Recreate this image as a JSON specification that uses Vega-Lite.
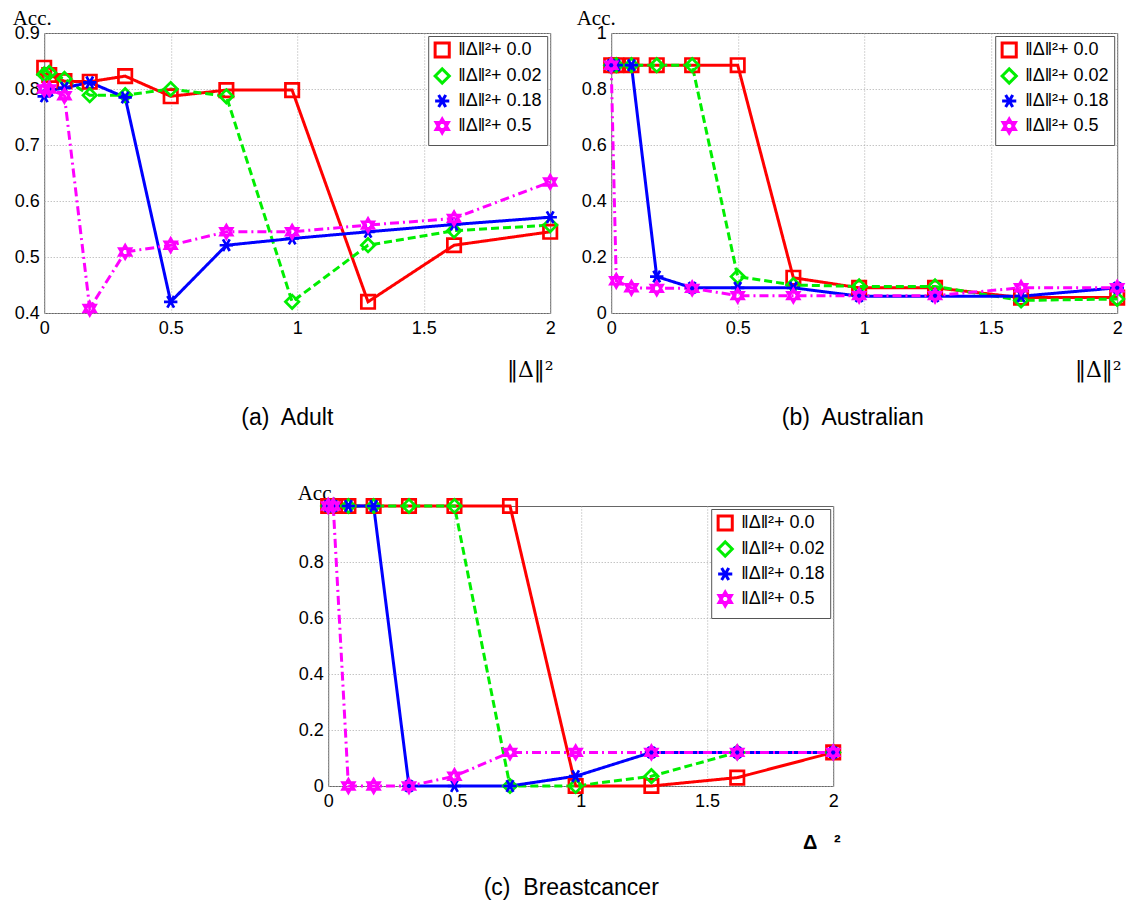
{
  "$schema": "https://vega.github.io/schema/vega-lite/v6.json",
  "padding": {"left": 11, "top": 6, "right": 5, "bottom": 5},
  "background": "white",
  "center": true,
  "spacing": 50,
  "datasets": {
    "adult": [
      {"s": "0.0", "x": 0, "y": 0.838}, {"s": "0.0", "x": 0.02, "y": 0.825}, {"s": "0.0", "x": 0.08, "y": 0.814}, {"s": "0.0", "x": 0.18, "y": 0.813}, {"s": "0.0", "x": 0.32, "y": 0.823}, {"s": "0.0", "x": 0.5, "y": 0.787}, {"s": "0.0", "x": 0.72, "y": 0.798}, {"s": "0.0", "x": 0.98, "y": 0.798}, {"s": "0.0", "x": 1.28, "y": 0.42}, {"s": "0.0", "x": 1.62, "y": 0.521}, {"s": "0.0", "x": 2, "y": 0.545},
      {"s": "0.02", "x": 0, "y": 0.826}, {"s": "0.02", "x": 0.02, "y": 0.829}, {"s": "0.02", "x": 0.08, "y": 0.818}, {"s": "0.02", "x": 0.18, "y": 0.789}, {"s": "0.02", "x": 0.32, "y": 0.789}, {"s": "0.02", "x": 0.5, "y": 0.8}, {"s": "0.02", "x": 0.72, "y": 0.787}, {"s": "0.02", "x": 0.98, "y": 0.42}, {"s": "0.02", "x": 1.28, "y": 0.521}, {"s": "0.02", "x": 1.62, "y": 0.547}, {"s": "0.02", "x": 2, "y": 0.557},
      {"s": "0.18", "x": 0, "y": 0.787}, {"s": "0.18", "x": 0.02, "y": 0.797}, {"s": "0.18", "x": 0.08, "y": 0.802}, {"s": "0.18", "x": 0.18, "y": 0.812}, {"s": "0.18", "x": 0.32, "y": 0.785}, {"s": "0.18", "x": 0.5, "y": 0.42}, {"s": "0.18", "x": 0.72, "y": 0.521}, {"s": "0.18", "x": 0.98, "y": 0.533}, {"s": "0.18", "x": 1.28, "y": 0.545}, {"s": "0.18", "x": 1.62, "y": 0.558}, {"s": "0.18", "x": 2, "y": 0.571},
      {"s": "0.5", "x": 0, "y": 0.8}, {"s": "0.5", "x": 0.02, "y": 0.8}, {"s": "0.5", "x": 0.08, "y": 0.788}, {"s": "0.5", "x": 0.18, "y": 0.408}, {"s": "0.5", "x": 0.32, "y": 0.509}, {"s": "0.5", "x": 0.5, "y": 0.521}, {"s": "0.5", "x": 0.72, "y": 0.545}, {"s": "0.5", "x": 0.98, "y": 0.545}, {"s": "0.5", "x": 1.28, "y": 0.557}, {"s": "0.5", "x": 1.62, "y": 0.569}, {"s": "0.5", "x": 2, "y": 0.634}
    ],
    "australian": [
      {"s": "0.0", "x": 0, "y": 0.885}, {"s": "0.0", "x": 0.02, "y": 0.885}, {"s": "0.0", "x": 0.08, "y": 0.885}, {"s": "0.0", "x": 0.18, "y": 0.885}, {"s": "0.0", "x": 0.32, "y": 0.885}, {"s": "0.0", "x": 0.5, "y": 0.885}, {"s": "0.0", "x": 0.72, "y": 0.126}, {"s": "0.0", "x": 0.98, "y": 0.09}, {"s": "0.0", "x": 1.28, "y": 0.09}, {"s": "0.0", "x": 1.62, "y": 0.055}, {"s": "0.0", "x": 2, "y": 0.055},
      {"s": "0.02", "x": 0, "y": 0.885}, {"s": "0.02", "x": 0.02, "y": 0.885}, {"s": "0.02", "x": 0.08, "y": 0.885}, {"s": "0.02", "x": 0.18, "y": 0.885}, {"s": "0.02", "x": 0.32, "y": 0.885}, {"s": "0.02", "x": 0.5, "y": 0.13}, {"s": "0.02", "x": 0.72, "y": 0.1}, {"s": "0.02", "x": 0.98, "y": 0.095}, {"s": "0.02", "x": 1.28, "y": 0.095}, {"s": "0.02", "x": 1.62, "y": 0.045}, {"s": "0.02", "x": 2, "y": 0.05},
      {"s": "0.18", "x": 0, "y": 0.885}, {"s": "0.18", "x": 0.02, "y": 0.885}, {"s": "0.18", "x": 0.08, "y": 0.885}, {"s": "0.18", "x": 0.18, "y": 0.13}, {"s": "0.18", "x": 0.32, "y": 0.09}, {"s": "0.18", "x": 0.5, "y": 0.09}, {"s": "0.18", "x": 0.72, "y": 0.09}, {"s": "0.18", "x": 0.98, "y": 0.06}, {"s": "0.18", "x": 1.28, "y": 0.06}, {"s": "0.18", "x": 1.62, "y": 0.06}, {"s": "0.18", "x": 2, "y": 0.09},
      {"s": "0.5", "x": 0, "y": 0.885}, {"s": "0.5", "x": 0.02, "y": 0.115}, {"s": "0.5", "x": 0.08, "y": 0.09}, {"s": "0.5", "x": 0.18, "y": 0.088}, {"s": "0.5", "x": 0.32, "y": 0.088}, {"s": "0.5", "x": 0.5, "y": 0.062}, {"s": "0.5", "x": 0.72, "y": 0.062}, {"s": "0.5", "x": 0.98, "y": 0.062}, {"s": "0.5", "x": 1.28, "y": 0.062}, {"s": "0.5", "x": 1.62, "y": 0.09}, {"s": "0.5", "x": 2, "y": 0.09}
    ],
    "breast": [
      {"s": "0.0", "x": 0, "y": 1}, {"s": "0.0", "x": 0.02, "y": 1}, {"s": "0.0", "x": 0.08, "y": 1}, {"s": "0.0", "x": 0.18, "y": 1}, {"s": "0.0", "x": 0.32, "y": 1}, {"s": "0.0", "x": 0.5, "y": 1}, {"s": "0.0", "x": 0.72, "y": 1}, {"s": "0.0", "x": 0.98, "y": 0}, {"s": "0.0", "x": 1.28, "y": 0}, {"s": "0.0", "x": 1.62, "y": 0.03}, {"s": "0.0", "x": 2, "y": 0.12},
      {"s": "0.02", "x": 0, "y": 1}, {"s": "0.02", "x": 0.02, "y": 1}, {"s": "0.02", "x": 0.08, "y": 1}, {"s": "0.02", "x": 0.18, "y": 1}, {"s": "0.02", "x": 0.32, "y": 1}, {"s": "0.02", "x": 0.5, "y": 1}, {"s": "0.02", "x": 0.72, "y": 0}, {"s": "0.02", "x": 0.98, "y": 0}, {"s": "0.02", "x": 1.28, "y": 0.035}, {"s": "0.02", "x": 1.62, "y": 0.12}, {"s": "0.02", "x": 2, "y": 0.12},
      {"s": "0.18", "x": 0, "y": 1}, {"s": "0.18", "x": 0.02, "y": 1}, {"s": "0.18", "x": 0.08, "y": 1}, {"s": "0.18", "x": 0.18, "y": 1}, {"s": "0.18", "x": 0.32, "y": 0}, {"s": "0.18", "x": 0.5, "y": 0}, {"s": "0.18", "x": 0.72, "y": 0}, {"s": "0.18", "x": 0.98, "y": 0.035}, {"s": "0.18", "x": 1.28, "y": 0.12}, {"s": "0.18", "x": 1.62, "y": 0.12}, {"s": "0.18", "x": 2, "y": 0.12},
      {"s": "0.5", "x": 0, "y": 1}, {"s": "0.5", "x": 0.02, "y": 1}, {"s": "0.5", "x": 0.08, "y": 0}, {"s": "0.5", "x": 0.18, "y": 0}, {"s": "0.5", "x": 0.32, "y": 0}, {"s": "0.5", "x": 0.5, "y": 0.035}, {"s": "0.5", "x": 0.72, "y": 0.12}, {"s": "0.5", "x": 0.98, "y": 0.12}, {"s": "0.5", "x": 1.28, "y": 0.12}, {"s": "0.5", "x": 1.62, "y": 0.12}, {"s": "0.5", "x": 2, "y": 0.12}
    ]
  },
  "vconcat": [
    {
      "bounds": "flush",
      "spacing": 61,
      "hconcat": [
        {
          "width": 506, "height": 280,
          "data": {"name": "adult"},
          "title": {"text": "(a)\u00a0 Adult"},
          "resolve": {"legend": {"color": "independent", "shape": "independent", "strokeDash": "independent"}},
          "encoding": {
            "x": {"field": "x", "type": "quantitative", "scale": {"domain": [0, 2], "nice": false, "zero": false},
                  "axis": {"values": [0, 0.5, 1, 1.5, 2], "format": "~g", "title": "‖Δ‖²", "titleFont": "DejaVu Serif", "titleAlign": "right", "titleBaseline": "alphabetic", "titleX": 509, "titleY": 63, "titleFontSize": 22}},
            "y": {"field": "y", "type": "quantitative", "scale": {"domain": [0.4, 0.9], "nice": false, "zero": false},
                  "axis": {"values": [0.4, 0.5, 0.6, 0.7, 0.8, 0.9], "format": "~g", "title": "Acc.", "titleAngle": 0, "titleAlign": "left", "titleBaseline": "alphabetic", "titleX": -32, "titleY": -9, "titleFontSize": 21}}
          },
          "layer": [
            {"mark": {"type": "line", "strokeWidth": 3},
             "encoding": {
               "color": {"field": "s", "type": "nominal", "scale": {"domain": ["0.0", "0.02", "0.18", "0.5"], "range": ["#ff0000", "#00ee00", "#0000ff", "#ff00ff"]}, "legend": null},
               "strokeDash": {"field": "s", "type": "nominal", "scale": {"domain": ["0.0", "0.02", "0.18", "0.5"], "range": [[1, 0], [8, 4], [1, 0], [9, 4, 2, 4]]}, "legend": null}
             }},
            {"mark": {"type": "point", "filled": false, "strokeWidth": 2.7, "size": 180, "opacity": 1},
             "encoding": {
               "color": {"field": "s", "type": "nominal", "legend": {"title": null, "labelExpr": "'‖Δ‖²+ ' + datum.label"}},
               "shape": {"field": "s", "type": "nominal", "scale": {"domain": ["0.0", "0.02", "0.18", "0.5"], "range": ["square", "diamond", "M-1,0L1,0M-0.5,-0.866L0.5,0.866M-0.5,0.866L0.5,-0.866", "M0,-1L0.866,0.5L-0.866,0.5ZM0,1L0.866,-0.5L-0.866,-0.5Z"]}, "legend": {"title": null, "labelExpr": "'‖Δ‖²+ ' + datum.label"}}
             }}
          ]
        },
        {
          "width": 506, "height": 280,
          "data": {"name": "australian"},
          "title": {"text": "(b)\u00a0 Australian"},
          "resolve": {"legend": {"color": "independent", "shape": "independent", "strokeDash": "independent"}},
          "encoding": {
            "x": {"field": "x", "type": "quantitative", "scale": {"domain": [0, 2], "nice": false, "zero": false},
                  "axis": {"values": [0, 0.5, 1, 1.5, 2], "format": "~g", "title": "‖Δ‖²", "titleFont": "DejaVu Serif", "titleAlign": "right", "titleBaseline": "alphabetic", "titleX": 510, "titleY": 63, "titleFontSize": 22}},
            "y": {"field": "y", "type": "quantitative", "scale": {"domain": [0, 1], "nice": false},
                  "axis": {"values": [0, 0.2, 0.4, 0.6, 0.8, 1], "format": "~g", "title": "Acc.", "titleAngle": 0, "titleAlign": "left", "titleBaseline": "alphabetic", "titleX": -35, "titleY": -9, "titleFontSize": 21}}
          },
          "layer": [
            {"mark": {"type": "line", "strokeWidth": 3},
             "encoding": {
               "color": {"field": "s", "type": "nominal", "scale": {"domain": ["0.0", "0.02", "0.18", "0.5"], "range": ["#ff0000", "#00ee00", "#0000ff", "#ff00ff"]}, "legend": null},
               "strokeDash": {"field": "s", "type": "nominal", "scale": {"domain": ["0.0", "0.02", "0.18", "0.5"], "range": [[1, 0], [8, 4], [1, 0], [9, 4, 2, 4]]}, "legend": null}
             }},
            {"mark": {"type": "point", "filled": false, "strokeWidth": 2.7, "size": 180, "opacity": 1},
             "encoding": {
               "color": {"field": "s", "type": "nominal", "legend": {"title": null, "labelExpr": "'‖Δ‖²+ ' + datum.label"}},
               "shape": {"field": "s", "type": "nominal", "scale": {"domain": ["0.0", "0.02", "0.18", "0.5"], "range": ["square", "diamond", "M-1,0L1,0M-0.5,-0.866L0.5,0.866M-0.5,0.866L0.5,-0.866", "M0,-1L0.866,0.5L-0.866,0.5ZM0,1L0.866,-0.5L-0.866,-0.5Z"]}, "legend": {"title": null, "labelExpr": "'‖Δ‖²+ ' + datum.label"}}
             }}
          ]
        }
      ]
    },
    {
      "width": 505, "height": 280,
      "data": {"name": "breast"},
      "title": {"text": "(c)\u00a0 Breastcancer", "offset": 25},
      "resolve": {"legend": {"color": "independent", "shape": "independent", "strokeDash": "independent"}},
      "encoding": {
        "x": {"field": "x", "type": "quantitative", "scale": {"domain": [0, 2], "nice": false, "zero": false},
              "axis": {"values": [0, 0.5, 1, 1.5, 2], "format": "~g", "title": "Δ\u00a0\u00a0\u00a0²", "titleFont": "Liberation Sans", "titleFontWeight": "bold", "titleAlign": "right", "titleBaseline": "alphabetic", "titleX": 512, "titleY": 62, "titleFontSize": 20}},
        "y": {"field": "y", "type": "quantitative", "scale": {"domain": [0, 1], "nice": false},
              "axis": {"values": [0, 0.2, 0.4, 0.6, 0.8], "format": "~g", "title": "Acc.", "titleAngle": 0, "titleAlign": "left", "titleBaseline": "alphabetic", "titleX": -31, "titleY": -7, "titleFontSize": 21}}
      },
      "layer": [
        {"mark": {"type": "line", "strokeWidth": 3},
         "encoding": {
           "color": {"field": "s", "type": "nominal", "scale": {"domain": ["0.0", "0.02", "0.18", "0.5"], "range": ["#ff0000", "#00ee00", "#0000ff", "#ff00ff"]}, "legend": null},
           "strokeDash": {"field": "s", "type": "nominal", "scale": {"domain": ["0.0", "0.02", "0.18", "0.5"], "range": [[1, 0], [8, 4], [1, 0], [9, 4, 2, 4]]}, "legend": null}
         }},
        {"mark": {"type": "point", "filled": false, "strokeWidth": 2.7, "size": 180, "opacity": 1},
         "encoding": {
           "color": {"field": "s", "type": "nominal", "legend": {"title": null, "labelExpr": "'‖Δ‖²+ ' + datum.label"}},
           "shape": {"field": "s", "type": "nominal", "scale": {"domain": ["0.0", "0.02", "0.18", "0.5"], "range": ["square", "diamond", "M-1,0L1,0M-0.5,-0.866L0.5,0.866M-0.5,0.866L0.5,-0.866", "M0,-1L0.866,0.5L-0.866,0.5ZM0,1L0.866,-0.5L-0.866,-0.5Z"]}, "legend": {"title": null, "labelExpr": "'‖Δ‖²+ ' + datum.label"}}
         }}
      ]
    }
  ],
  "config": {
    "view": {"stroke": "#666666", "strokeWidth": 1},
    "axis": {"labelFont": "Liberation Sans", "labelFontSize": 18, "labelColor": "#000000", "labelPadding": 5, "ticks": false, "domain": false, "grid": true, "gridColor": "#aaaaaa", "gridDash": [1, 2], "gridWidth": 1, "labelFlush": false, "labelOverlap": false, "titleFont": "Liberation Serif", "titleFontWeight": "normal", "titleColor": "#000000"},
    "axisX": {"labelPadding": 6},
    "legend": {"orient": "top-right", "offset": 3, "strokeColor": "#555555", "fillColor": "white", "padding": 5, "labelFont": "Liberation Sans", "labelFontSize": 18, "labelColor": "#000000", "symbolSize": 200, "symbolStrokeWidth": 3, "rowPadding": -2, "labelLimit": 300, "labelOffset": 7},
    "title": {"font": "Liberation Sans", "fontSize": 23, "fontWeight": "normal", "color": "#000000", "orient": "bottom", "anchor": "middle", "frame": "bounds", "offset": 27}
  }
}
